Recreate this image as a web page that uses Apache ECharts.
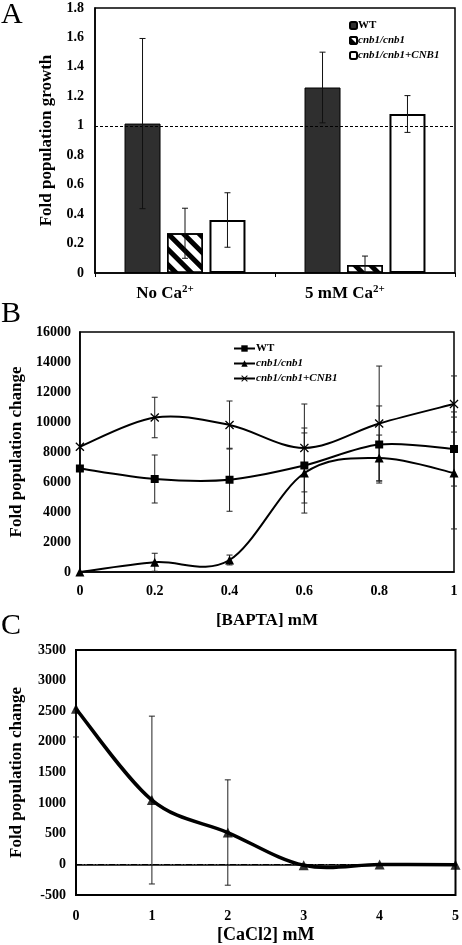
<!DOCTYPE html>
<html><head><meta charset="utf-8">
<script src="https://cdn.jsdelivr.net/npm/echarts@6/dist/echarts.min.js"></script>
<style>html,body{margin:0;padding:0;background:#fff}#c{width:462px;height:945px}</style>
</head><body><div id="c"></div>
<script>
// ---- Panel A data ----
const catsA = ['No Ca', '5 mM Ca'];
const wtA = [1.015, 1.26];
const errWtA = [0.578, 0.24];
const cnbA = [0.27, 0.055];
const errCnbA = [0.17, 0.06];
const compA = [0.36, 1.08];
const errCompA = [0.185, 0.125];
const namesA = ['WT', 'cnb1/cnb1', 'cnb1/cnb1+CNB1'];

// ---- Panel B data ----
const xB = [0, 0.2, 0.4, 0.6, 0.8, 1];
const wtB = [6900, 6200, 6150, 7100, 8500, 8200];
const errWtB = [0, 1600, 2100, 2500, 2570, 2470];
const cnbB = [0, 650, 800, 6600, 7600, 6600];
const errCnbB = [0, 600, 330, 2670, 1530, 3730];
const compB = [8350, 10300, 9800, 8270, 9900, 11200];
const errCompB = [0, 1350, 1600, 2930, 3830, 1870];

// ---- Panel C data ----
const xC = [0, 1, 2, 3, 4, 5];
const yC = [2540, 1050, 520, -15, 0, -5];
const errLowC = [460, 1370, 860, 0, 0, 0];
const errHighC = [0, 1370, 860, 0, 0, 0];

const FONT = 'Liberation Serif';
const chart = echarts.init(document.getElementById('c'));

function errRender(offsetPx, capHalf, color) {
  return function (params, api) {
    const x = api.value(0), v = api.value(1), lo = api.value(2), hi = api.value(3);
    const cs = params.coordSys;
    const bottom = cs.y + cs.height;
    const pv = api.coord([x, v]);
    const pl = api.coord([x, lo]);
    const ph = api.coord([x, hi]);
    const cx = pv[0] + offsetPx;
    const yl = Math.min(pl[1], bottom), yh = ph[1];
    const st = {stroke: color, lineWidth: 1};
    const ch = [{type: 'line', shape: {x1: cx, y1: yl, x2: cx, y2: yh}, style: st}];
    if (hi !== v) ch.push({type: 'line', shape: {x1: cx - capHalf, y1: yh, x2: cx + capHalf, y2: yh}, style: st});
    if (lo !== v && pl[1] <= bottom) ch.push({type: 'line', shape: {x1: cx - capHalf, y1: yl, x2: cx + capHalf, y2: yl}, style: st});
    return {type: 'group', children: ch};
  };
}

// Excel-like smoothed curve (Catmull-Rom bezier) drawn through the axis scales
function curveSeries(xs, ys, xi, yi, width) {
  const n = xs.length;
  const cl = k => Math.max(0, Math.min(n - 1, k));
  return {
    type: 'custom', xAxisIndex: xi, yAxisIndex: yi, silent: true, z: 2,
    data: xs.map((x, i) => [x, ys[i]]),
    renderItem: function (params, api) {
      const i = params.dataIndex;
      if (i >= n - 1) return null;
      const P = k => api.coord([xs[cl(k)], ys[cl(k)]]);
      const p0 = P(i - 1), p1 = P(i), p2 = P(i + 1), p3 = P(i + 2);
      const t = 1 / 6;
      return {
        type: 'bezierCurve',
        shape: {
          x1: p1[0], y1: p1[1], x2: p2[0], y2: p2[1],
          cpx1: p1[0] + (p2[0] - p0[0]) * t, cpy1: p1[1] + (p2[1] - p0[1]) * t,
          cpx2: p2[0] - (p3[0] - p1[0]) * t, cpy2: p2[1] - (p3[1] - p1[1]) * t
        },
        style: {stroke: '#000', lineWidth: width, fill: null, lineCap: 'round'}
      };
    }
  };
}

const barW = 36, barGapRatio = 0.18;
const step = barW * (1 + barGapRatio);

function errDataBar(vals, errs) {
  return vals.map((v, i) => [i, v, v - errs[i], v + errs[i]]);
}
function errDataLine(xs, vals, errs) {
  return xs.map((x, i) => [x, vals[i], vals[i] - errs[i], vals[i] + errs[i]]).filter((d, i) => errs[i] > 0);
}

const axisLabelStyle = {color: '#000', fontFamily: FONT, fontWeight: 'bold', fontSize: 14, formatter: v => String(v)};
const nameStyle = {color: '#000', fontFamily: FONT, fontWeight: 'bold', fontSize: 17};
const blackLine = {show: true, lineStyle: {color: '#000', width: 1.5}};

const crossPath = 'path://M0,1L1,0L5,4L9,0L10,1L6,5L10,9L9,10L5,6L1,10L0,9L4,5Z';

const option = {
  animation: false,
  backgroundColor: '#fff',
  textStyle: {fontFamily: FONT},
  graphic: [
    {type: 'text', left: 1, top: 0, style: {text: 'A', font: '30px "Liberation Serif"', fill: '#000'}},
    {type: 'text', left: 1, top: 299, style: {text: 'B', font: '30px "Liberation Serif"', fill: '#000'}},
    {type: 'text', left: 1, top: 611, style: {text: 'C', font: '30px "Liberation Serif"', fill: '#000'}}
  ],
  legend: [
    {
      orient: 'vertical', left: 344, top: 15, itemWidth: 7, itemHeight: 7, itemGap: 4,
      textStyle: {fontFamily: FONT, fontWeight: 'bold', fontStyle: 'italic', fontSize: 11, color: '#000', padding: [0, 0, 0, -4]},
      data: [{name: 'WT', textStyle: {fontStyle: 'normal'}}, {name: 'cnb1/cnb1'}, {name: 'cnb1/cnb1+CNB1'}]
    },
    {
      orient: 'vertical', left: 228, top: 338, itemWidth: 21, itemHeight: 8, itemGap: 4,
      lineStyle: {width: 2, color: '#000', opacity: 1, type: 'solid'},
      textStyle: {fontFamily: FONT, fontWeight: 'bold', fontStyle: 'italic', fontSize: 11, color: '#000', padding: [0, 0, 0, -4]},
      data: [{name: 'WT ', textStyle: {fontStyle: 'normal'}}, {name: 'cnb1/cnb1 '}, {name: 'cnb1/cnb1+CNB1 '}]
    }
  ],
  grid: [
    {left: 95, top: 8, width: 360, height: 265, show: true, borderColor: '#000', borderWidth: 1.5},
    {left: 78, top: 332, width: 376, height: 240, show: true, borderColor: '#000', borderWidth: 1.5},
    {left: 73, top: 650, width: 383, height: 249, show: true, borderColor: '#000', borderWidth: 2}
  ],
  xAxis: [
    {
      gridIndex: 0, type: 'category', data: catsA,
      axisLine: blackLine,
      axisTick: {show: true, length: 4, lineStyle: {color: '#000'}},
      axisLabel: {
        margin: 11,
        padding: [0, 40, 0, 0],
        formatter: v => '{a|' + v + '}{s|2+}',
        rich: {
          a: {fontFamily: FONT, fontWeight: 'bold', fontSize: 17, color: '#000'},
          s: {fontFamily: FONT, fontWeight: 'bold', fontSize: 11, color: '#000', verticalAlign: 'top', padding: [0, 0, 9, 0]}
        }
      }
    },
    {
      gridIndex: 1, type: 'value', min: 0, max: 1, interval: 0.2,
      axisLine: blackLine, axisTick: {show: false}, splitLine: {show: false},
      axisLabel: Object.assign({margin: 12}, axisLabelStyle),
      name: '[BAPTA] mM', nameLocation: 'middle', nameGap: 40, nameTextStyle: nameStyle
    },
    {
      gridIndex: 2, type: 'value', min: 0, max: 5, interval: 1,
      axisLine: blackLine, axisTick: {show: false}, splitLine: {show: false},
      axisLabel: Object.assign({margin: 14}, axisLabelStyle),
      name: '[CaCl2] mM', nameLocation: 'middle', nameGap: 31, nameTextStyle: Object.assign({}, nameStyle, {fontSize: 18})
    }
  ],
  yAxis: [
    {
      gridIndex: 0, type: 'value', min: 0, max: 1.8, interval: 0.2,
      axisLine: blackLine, axisTick: {show: false}, splitLine: {show: false},
      axisLabel: Object.assign({margin: 11}, axisLabelStyle),
      name: 'Fold population growth', nameLocation: 'middle', nameGap: 40, nameTextStyle: nameStyle
    },
    {
      gridIndex: 1, type: 'value', min: 0, max: 16000, interval: 2000,
      axisLine: blackLine, axisTick: {show: false}, splitLine: {show: false},
      axisLabel: Object.assign({margin: 9}, axisLabelStyle),
      name: 'Fold population change', nameLocation: 'middle', nameGap: 52, nameTextStyle: nameStyle
    },
    {
      gridIndex: 2, type: 'value', min: -500, max: 3500, interval: 500,
      axisLine: blackLine, axisTick: {show: false}, splitLine: {show: false},
      axisLabel: Object.assign({margin: 10}, axisLabelStyle),
      name: 'Fold population change', nameLocation: 'middle', nameGap: 51, nameTextStyle: nameStyle
    }
  ],
  series: [
    // Panel A bars
    {
      name: namesA[0], type: 'bar', xAxisIndex: 0, yAxisIndex: 0, data: wtA,
      barWidth: barW, barGap: (barGapRatio * 100) + '%',
      itemStyle: {color: '#2f2f2f', borderColor: '#000', borderWidth: 1},
      markLine: {
        silent: true, symbol: 'none', label: {show: false},
        lineStyle: {color: '#000', type: [3, 2], width: 1},
        data: [{yAxis: 1}]
      }
    },
    {
      name: namesA[1], type: 'bar', xAxisIndex: 0, yAxisIndex: 0, data: cnbA,
      barWidth: barW,
      itemStyle: {
        color: '#fff', borderColor: '#000', borderWidth: 1.5,
        decal: {symbol: 'rect', symbolSize: 1, dashArrayX: [1, 0], dashArrayY: [5, 5.5], rotation: Math.PI / 4, color: '#000'}
      }
    },
    {
      name: namesA[2], type: 'bar', xAxisIndex: 0, yAxisIndex: 0, data: compA,
      barWidth: barW,
      itemStyle: {color: '#fff', borderColor: '#000', borderWidth: 2}
    },
    {type: 'custom', xAxisIndex: 0, yAxisIndex: 0, z: 10, data: errDataBar(wtA, errWtA), renderItem: errRender(-step, 3, '#111'), silent: true},
    {type: 'custom', xAxisIndex: 0, yAxisIndex: 0, z: 10, data: errDataBar(cnbA, errCnbA), renderItem: errRender(0, 3, '#111'), silent: true},
    {type: 'custom', xAxisIndex: 0, yAxisIndex: 0, z: 10, data: errDataBar(compA, errCompA), renderItem: errRender(step, 3, '#111'), silent: true},

    // Panel B error bars
    {type: 'custom', xAxisIndex: 1, yAxisIndex: 1, z: 1, data: errDataLine(xB, compB, errCompB), renderItem: errRender(0, 3, '#222'), silent: true},
    {type: 'custom', xAxisIndex: 1, yAxisIndex: 1, z: 1, data: errDataLine(xB, wtB, errWtB), renderItem: errRender(0, 3, '#222'), silent: true},
    {type: 'custom', xAxisIndex: 1, yAxisIndex: 1, z: 1, data: errDataLine(xB, cnbB, errCnbB), renderItem: errRender(0, 3, '#222'), silent: true},
    // Panel B smoothed curves
    curveSeries(xB, wtB, 1, 1, 2),
    curveSeries(xB, cnbB, 1, 1, 2),
    curveSeries(xB, compB, 1, 1, 2),
    // Panel B markers (line drawn by curve series)
    {
      name: 'WT ', type: 'line', xAxisIndex: 1, yAxisIndex: 1, z: 3,
      data: xB.map((x, i) => [x, wtB[i]]),
      symbol: 'rect', symbolSize: 8, color: '#000',
      lineStyle: {color: '#000', width: 0, opacity: 0}, itemStyle: {color: '#000'}
    },
    {
      name: 'cnb1/cnb1 ', type: 'line', xAxisIndex: 1, yAxisIndex: 1, z: 3,
      data: xB.map((x, i) => [x, cnbB[i]]),
      symbol: 'triangle', symbolSize: 9, color: '#000',
      lineStyle: {color: '#000', width: 0, opacity: 0}, itemStyle: {color: '#000'}
    },
    {
      name: 'cnb1/cnb1+CNB1 ', type: 'line', xAxisIndex: 1, yAxisIndex: 1, z: 3,
      data: xB.map((x, i) => [x, compB[i]]),
      symbol: crossPath, symbolSize: 9, color: '#000',
      lineStyle: {color: '#000', width: 0, opacity: 0}, itemStyle: {color: '#000'}
    },

    // Panel C
    {
      type: 'custom', xAxisIndex: 2, yAxisIndex: 2, z: 1, silent: true,
      data: xC.map((x, i) => [x, yC[i], yC[i] - errLowC[i], yC[i] + errHighC[i]]).filter((d, i) => errLowC[i] > 0 || errHighC[i] > 0),
      renderItem: errRender(0, 3, '#222')
    },
    curveSeries(xC, yC, 2, 2, 3.5),
    {
      type: 'scatter', xAxisIndex: 2, yAxisIndex: 2, z: 3,
      data: xC.map((x, i) => [x, yC[i]]),
      symbol: 'triangle', symbolSize: 10, itemStyle: {color: '#000'},
      markLine: {
        silent: true, symbol: 'none', label: {show: false},
        lineStyle: {color: '#000', type: [6, 2, 1, 2], width: 1},
        data: [{yAxis: 0}]
      }
    }
  ]
};
chart.setOption(option);
</script>
</body></html>
